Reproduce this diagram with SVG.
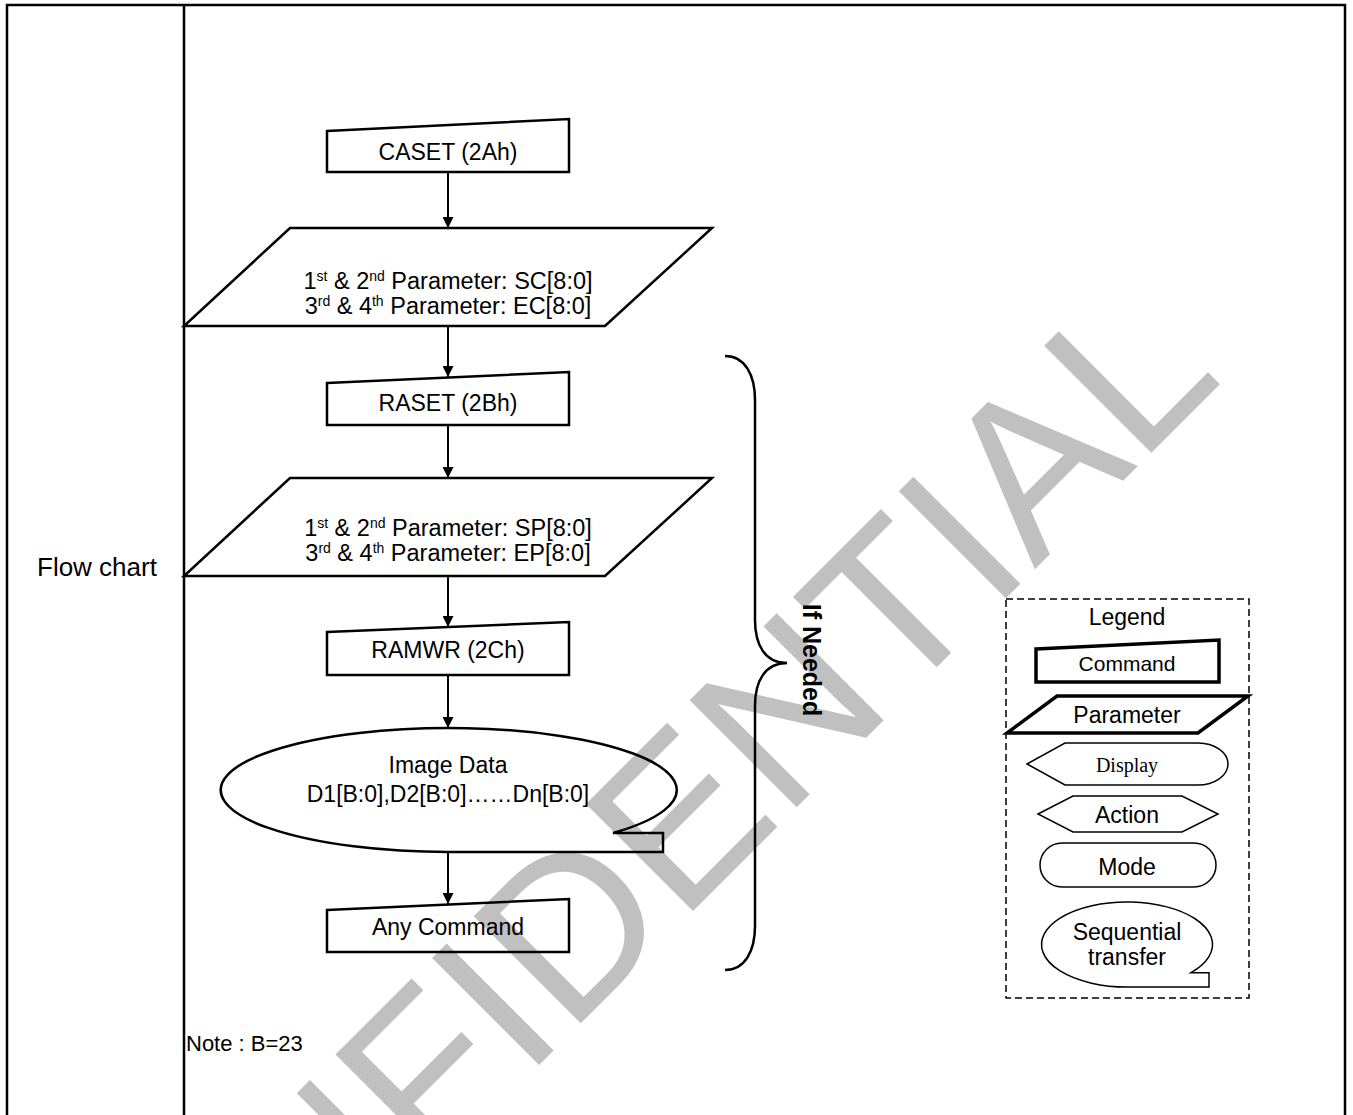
<svg xmlns="http://www.w3.org/2000/svg" width="1353" height="1115" viewBox="0 0 1353 1115">
<defs>
<style>
text{font-family:"Liberation Sans",Arial,sans-serif;fill:#000}
.t{font-size:23px;text-anchor:middle}
.p{font-size:23.5px;text-anchor:middle}
.shape{fill:none;stroke:#000;stroke-width:2.5}
.thin{fill:none;stroke:#000;stroke-width:1.5}
.thick{fill:none;stroke:#000;stroke-width:3.5}
.conn{fill:none;stroke:#000;stroke-width:2}
.wm{font-size:220px;fill:#c0c0c0}
</style>
<marker id="arr" viewBox="0 0 10 10" refX="10" refY="5" markerWidth="11" markerHeight="11" markerUnits="userSpaceOnUse" orient="auto">
<path d="M0,0 L10,5 L0,10 Z" fill="#000"/>
</marker>
</defs>
<rect width="1353" height="1115" fill="#fff"/>
<g id="watermark">
<text class="wm" transform="translate(84,1520) rotate(-45)">CONFIDENTIAL</text>
</g>
<g id="table">
<path d="M7,1115 L7,5 L1345,5 L1345,1115" fill="none" stroke="#000" stroke-width="2.5"/>
<line x1="184" y1="5" x2="184" y2="1115" stroke="#000" stroke-width="2.5"/>
<text x="37" y="576" style="font-size:26px">Flow chart</text>
</g>
<g id="connectors">
<line class="conn" x1="448" y1="172" x2="448" y2="228" marker-end="url(#arr)"/>
<line class="conn" x1="448" y1="326" x2="448" y2="377" marker-end="url(#arr)"/>
<line class="conn" x1="448" y1="425" x2="448" y2="478" marker-end="url(#arr)"/>
<line class="conn" x1="448" y1="576" x2="448" y2="627" marker-end="url(#arr)"/>
<line class="conn" x1="448" y1="675" x2="448" y2="728" marker-end="url(#arr)"/>
<line class="conn" x1="448" y1="852" x2="448" y2="904" marker-end="url(#arr)"/>
</g>
<g id="caset">
<path class="shape" d="M327,131 L569,119 L569,172 L327,172 Z"/>
<text class="t" x="448" y="160">CASET (2Ah)</text>
</g>
<g id="param1">
<path class="shape" d="M290,228 L712,228 L605,326 L184,326 Z"/>
<text class="p" x="448" y="289">1<tspan font-size="14" dy="-8">st</tspan><tspan dy="8"> &amp; 2</tspan><tspan font-size="14" dy="-8">nd</tspan><tspan dy="8"> Parameter: SC[8:0]</tspan></text>
<text class="p" x="448" y="314">3<tspan font-size="14" dy="-8">rd</tspan><tspan dy="8"> &amp; 4</tspan><tspan font-size="14" dy="-8">th</tspan><tspan dy="8"> Parameter: EC[8:0]</tspan></text>
</g>
<g id="raset">
<path class="shape" d="M327,383 L569,372 L569,425 L327,425 Z"/>
<text class="t" x="448" y="411">RASET (2Bh)</text>
</g>
<g id="param2">
<path class="shape" d="M290,478 L712,478 L605,576 L184,576 Z"/>
<text class="p" x="448" y="536">1<tspan font-size="14" dy="-8">st</tspan><tspan dy="8"> &amp; 2</tspan><tspan font-size="14" dy="-8">nd</tspan><tspan dy="8"> Parameter: SP[8:0]</tspan></text>
<text class="p" x="448" y="561">3<tspan font-size="14" dy="-8">rd</tspan><tspan dy="8"> &amp; 4</tspan><tspan font-size="14" dy="-8">th</tspan><tspan dy="8"> Parameter: EP[8:0]</tspan></text>
</g>
<g id="ramwr">
<path class="shape" d="M327,632 L569,622 L569,675 L327,675 Z"/>
<text class="t" x="448" y="658">RAMWR (2Ch)</text>
</g>
<g id="imagedata">
<path class="shape" d="M449,852 A228,62 0 1 1 613,833 L663,833 L663,852 Z"/>
<text class="t" x="448" y="773">Image Data</text>
<text class="t" x="448" y="802">D1[B:0],D2[B:0]……Dn[B:0]</text>
</g>
<g id="anycommand">
<path class="shape" d="M327,910 L569,899 L569,952 L327,952 Z"/>
<text class="t" x="448" y="935">Any Command</text>
</g>
<g id="brace">
<path class="shape" d="M725,356 C745,356 755,375 755,400 L755,620 C755,645 765,663 787,663 C765,663 755,681 755,706 L755,926 C755,951 745,970 725,970"/>
<text transform="translate(803,660) rotate(90)" style="font-size:25px;font-weight:bold;text-anchor:middle">If Needed</text>
</g>
<g id="note">
<text x="186" y="1051" style="font-size:22px">Note : B=23</text>
</g>
<g id="legend">
<rect x="1006" y="599" width="243" height="399" fill="none" stroke="#000" stroke-width="1.5" stroke-dasharray="7,4"/>
<text class="t" x="1127" y="625">Legend</text>
<path class="thick" d="M1036,649 L1219,640 L1219,682 L1036,682 Z"/>
<text x="1127" y="671" style="font-size:21px;text-anchor:middle">Command</text>
<path class="thick" d="M1057,696 L1248,696 L1198,733 L1007,733 Z"/>
<text class="t" x="1127" y="723">Parameter</text>
<path class="thin" d="M1027,764 L1065,743 L1198,743 A30,21 0 0 1 1198,785 L1065,785 Z"/>
<text x="1127" y="772" style="font-family:'Liberation Serif','Times New Roman',serif;font-size:20px;text-anchor:middle">Display</text>
<path class="thin" d="M1038,814 L1073,796 L1182,796 L1218,814 L1182,832 L1073,832 Z"/>
<text class="t" x="1127" y="823">Action</text>
<rect class="thin" x="1040" y="843" width="176" height="44" rx="22" ry="22"/>
<text class="t" x="1127" y="875">Mode</text>
<path class="thin" d="M1127,987 A85.5,42.5 0 1 1 1191,972.7 L1209,972.7 L1209,987 Z"/>
<text class="t" x="1127" y="940">Sequential</text>
<text class="t" x="1127" y="965">transfer</text>
</g>
</svg>
